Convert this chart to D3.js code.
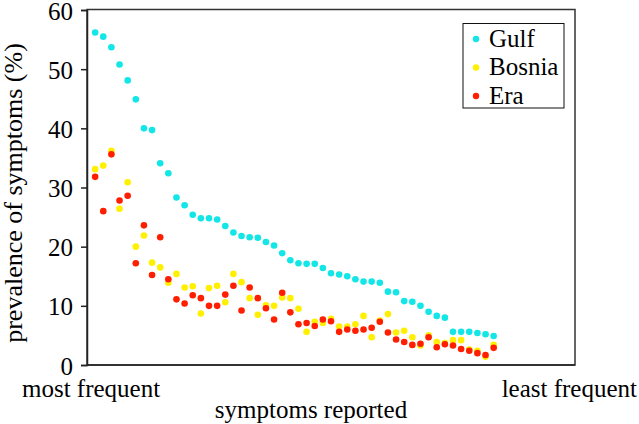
<!DOCTYPE html>
<html>
<head>
<meta charset="utf-8">
<script src="https://cdn.jsdelivr.net/npm/d3@7"></script>
<style>
  html, body { margin: 0; padding: 0; background: #fff; }
  svg { display: block; }
  text { font-family: "Liberation Serif", "Times New Roman", serif; fill: #000; }
</style>
</head>
<body>
<svg id="chart" width="639" height="424"></svg>
<script>
const seriesNames = ["Gulf", "Bosnia", "Era"];
const seriesColors = ["#12e6e6", "#fff000", "#ff1e00"];
const gulf = [56.2,55.5,53.7,50.8,48.1,44.9,40.0,39.7,34.1,32.4,28.3,27.0,25.4,24.8,24.8,24.6,23.5,22.4,21.8,21.6,21.5,20.8,20.2,18.9,17.7,17.2,17.1,17.1,16.4,15.5,15.3,15.0,14.5,14.1,14.1,13.9,12.4,12.3,10.8,10.7,10.0,9.0,8.3,8.0,5.6,5.6,5.6,5.4,5.2,4.9];
const bosnia = [33.1,33.7,36.2,26.4,30.9,20.0,21.9,17.3,16.5,13.9,15.4,13.1,13.3,8.7,13.0,13.4,10.6,15.4,14.0,11.3,8.5,10.1,10.0,11.4,11.3,9.5,5.6,7.3,7.1,7.8,6.5,6.5,6.9,8.3,4.7,7.5,8.6,5.5,5.8,4.7,3.3,5.0,3.9,3.7,4.2,4.2,2.6,2.4,1.4,3.4];
const era = [31.8,26.0,35.6,27.8,28.6,17.2,23.6,15.2,21.6,14.5,11.1,10.4,11.8,11.3,10.0,10.0,11.9,13.4,9.2,13.1,11.3,9.6,7.7,12.2,8.9,6.9,7.1,6.6,7.7,7.4,5.6,6.0,5.8,6.0,6.3,7.3,5.5,4.3,3.9,3.4,3.6,4.7,3.0,3.5,3.3,2.7,2.4,2.0,1.7,2.9];
const yTicks = [0, 10, 20, 30, 40, 50, 60];
const xEndLabels = ["most frequent", "least frequent"];
const xTitle = "symptoms reported";
const yTitle = "prevalence of symptoms (%)";

const serif = '"Liberation Serif", "Times New Roman", serif';
const svg = d3.select("#chart");
const pLeft = 87, pRight = 575, pTop = 10, pBottom = 365;
const x = d3.scaleLinear().domain([0, 60]).range([pLeft, pRight]);
const y = d3.scaleLinear().domain([0, 60]).range([pBottom, pTop]);

// frame
svg.append("rect")
  .attr("x", pLeft).attr("y", pTop - 0.5)
  .attr("width", pRight - pLeft).attr("height", pBottom - pTop + 0.5)
  .attr("fill", "none").attr("stroke", "#333").attr("stroke-width", 1.5);

// y axis
const yAxis = d3.axisLeft(y).tickValues(yTicks).tickSize(6).tickPadding(8).tickFormat(d3.format("d"));
const gy = svg.append("g").attr("transform", `translate(${pLeft},0)`).call(yAxis);
gy.attr("font-family", null).style("font-family", serif);
gy.select(".domain").attr("stroke", "#222").attr("stroke-width", 1.5);
gy.selectAll(".tick line").attr("stroke", "#222").attr("stroke-width", 1.5);
gy.selectAll(".tick text")
  .style("font-family", serif).attr("font-size", 25).attr("fill", "#000")
  .attr("dy", "0.36em");

// bottom axis line
svg.append("line").attr("x1", pLeft).attr("x2", pRight).attr("y1", pBottom).attr("y2", pBottom)
  .attr("stroke", "#222").attr("stroke-width", 1.5);

// points
const allSeries = [gulf, bosnia, era];
allSeries.forEach((vals, si) => {
  svg.append("g").selectAll("circle").data(vals).join("circle")
    .attr("cx", (d, i) => x(i + 1))
    .attr("cy", d => y(d))
    .attr("r", 3.3)
    .attr("fill", seriesColors[si]);
});

// axis texts
svg.append("text").attr("x", 22).attr("y", 397).attr("font-size", 25).text(xEndLabels[0]);
svg.append("text").attr("x", 637).attr("y", 397).attr("font-size", 25).attr("text-anchor", "end").text(xEndLabels[1]);
svg.append("text").attr("x", 311).attr("y", 418).attr("font-size", 25).attr("text-anchor", "middle").text(xTitle);
svg.append("text").attr("transform", "translate(22,193) rotate(-90)")
  .attr("font-size", 26).attr("text-anchor", "middle").text(yTitle);

// legend
const lg = svg.append("g");
lg.append("rect").attr("x", 463).attr("y", 23.5).attr("width", 101).attr("height", 84.5)
  .attr("fill", "#fff").attr("stroke", "#111").attr("stroke-width", 1);
const legY = d3.scalePoint().domain(seriesNames).range([39, 96]);
seriesNames.forEach((n, i) => {
  lg.append("circle").attr("cx", 476).attr("cy", legY(n)).attr("r", 3.2).attr("fill", seriesColors[i]);
  lg.append("text").attr("x", 489).attr("y", legY(n) + 7.5).attr("font-size", 25).text(n);
});
</script>
</body>
</html>
